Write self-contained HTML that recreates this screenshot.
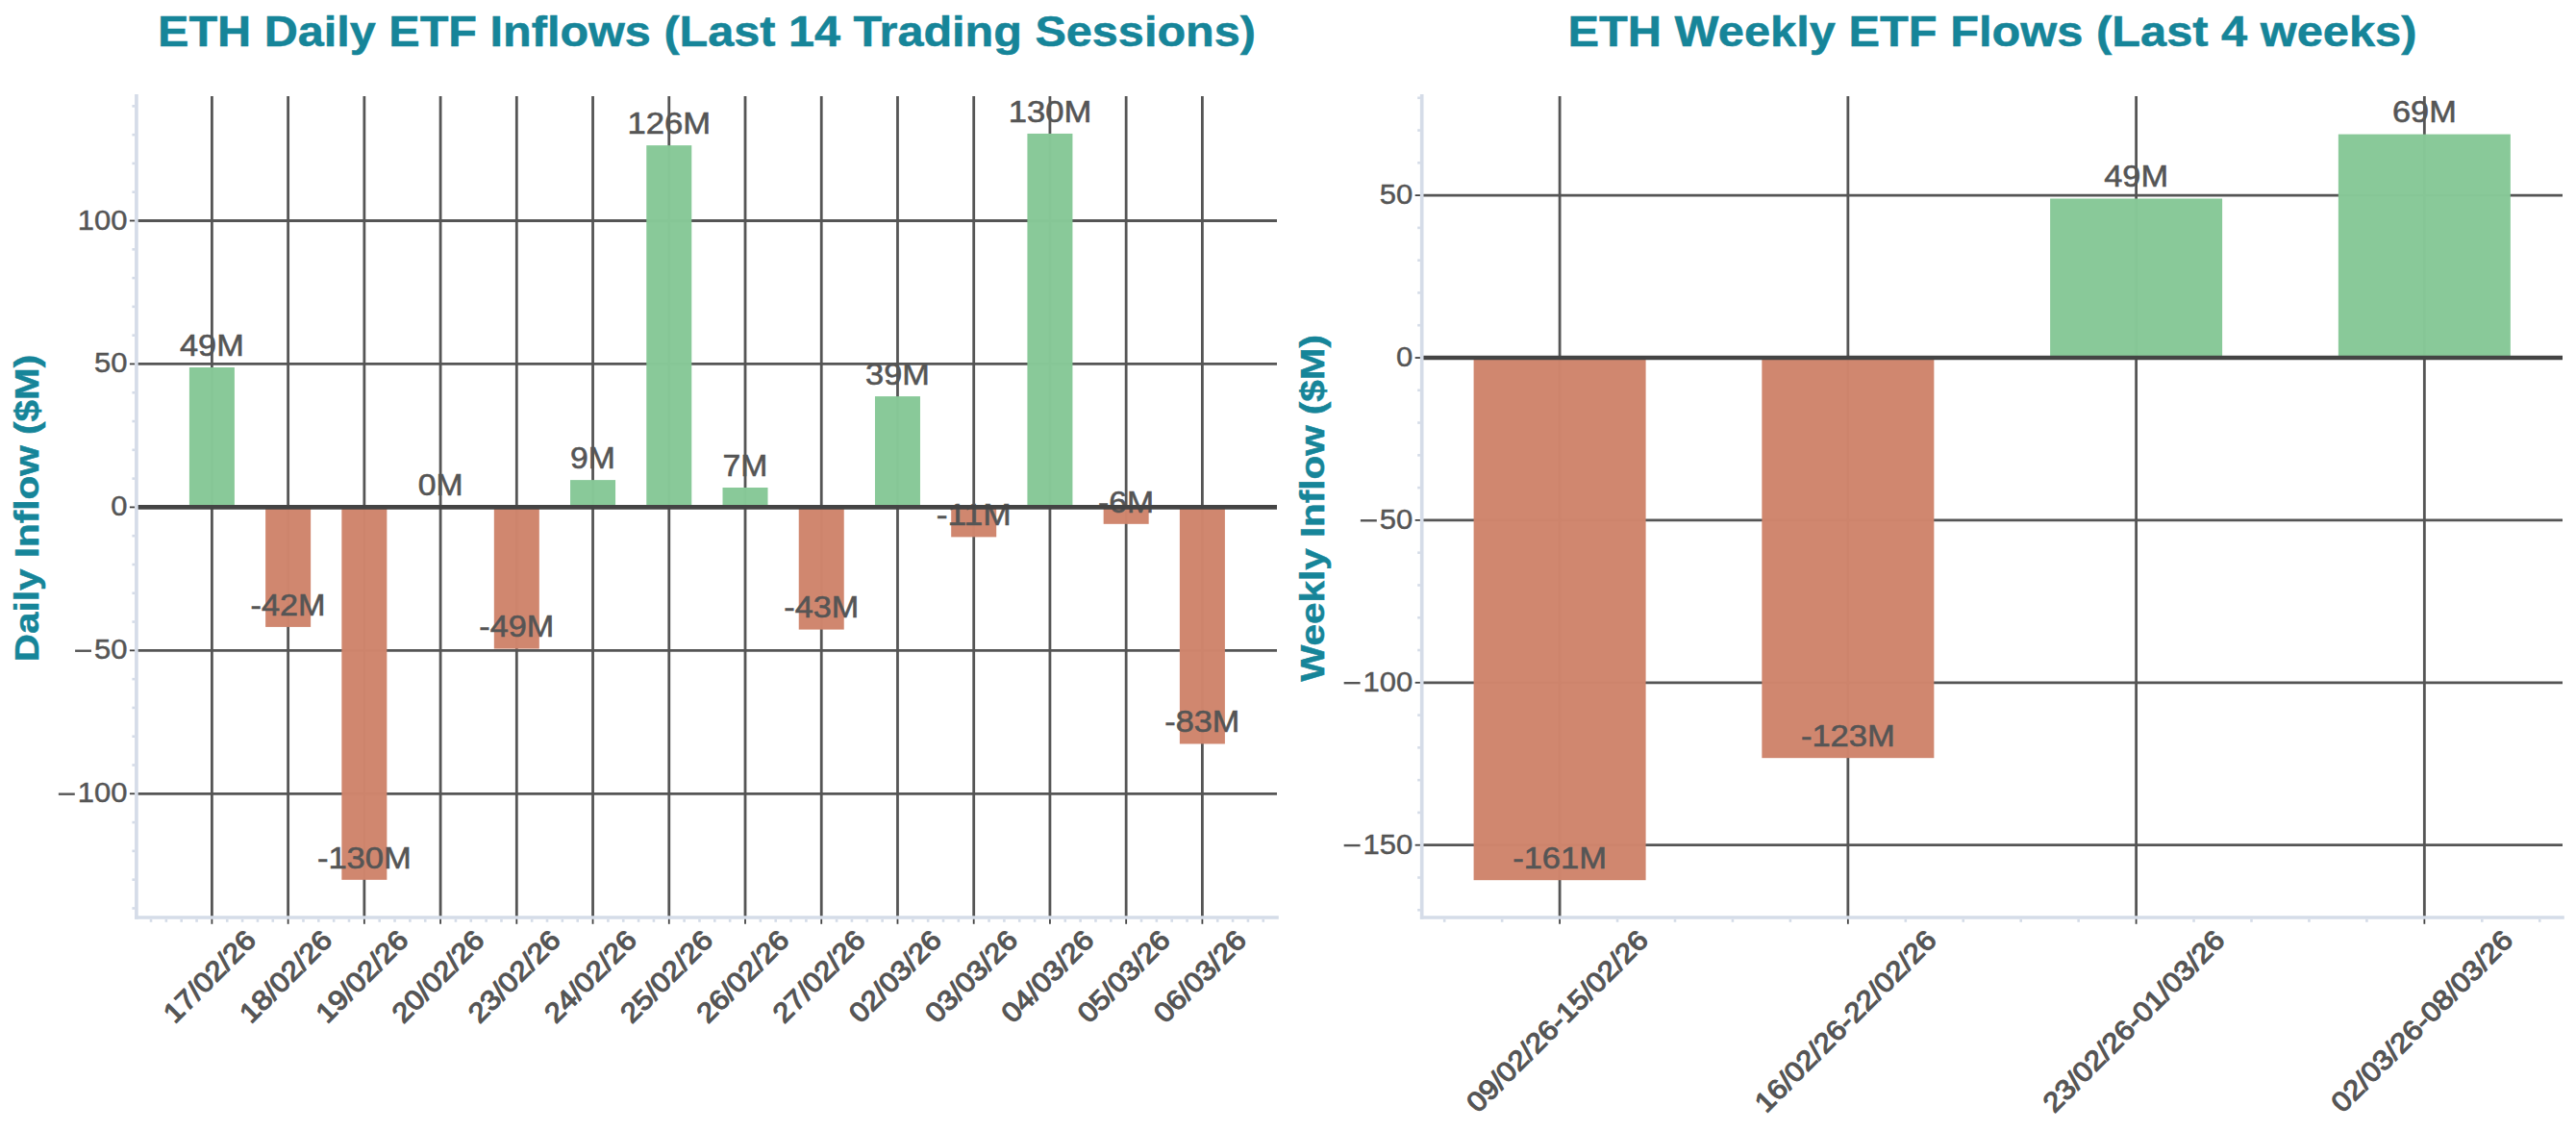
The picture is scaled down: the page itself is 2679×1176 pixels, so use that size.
<!DOCTYPE html>
<html><head><meta charset="utf-8"><style>
html,body{margin:0;padding:0;background:#fff;}
svg{display:block;}
text{font-family:"Liberation Sans",sans-serif;}
</style></head><body>
<svg width="2679" height="1176" viewBox="0 0 2679 1176">
<rect x="0" y="0" width="2679" height="1176" fill="#ffffff"/>
<line x1="220.40" y1="100.00" x2="220.40" y2="954.00" stroke="#555555" stroke-width="2.8" stroke-linecap="butt"/>
<line x1="299.63" y1="100.00" x2="299.63" y2="954.00" stroke="#555555" stroke-width="2.8" stroke-linecap="butt"/>
<line x1="378.86" y1="100.00" x2="378.86" y2="954.00" stroke="#555555" stroke-width="2.8" stroke-linecap="butt"/>
<line x1="458.09" y1="100.00" x2="458.09" y2="954.00" stroke="#555555" stroke-width="2.8" stroke-linecap="butt"/>
<line x1="537.32" y1="100.00" x2="537.32" y2="954.00" stroke="#555555" stroke-width="2.8" stroke-linecap="butt"/>
<line x1="616.55" y1="100.00" x2="616.55" y2="954.00" stroke="#555555" stroke-width="2.8" stroke-linecap="butt"/>
<line x1="695.78" y1="100.00" x2="695.78" y2="954.00" stroke="#555555" stroke-width="2.8" stroke-linecap="butt"/>
<line x1="775.01" y1="100.00" x2="775.01" y2="954.00" stroke="#555555" stroke-width="2.8" stroke-linecap="butt"/>
<line x1="854.24" y1="100.00" x2="854.24" y2="954.00" stroke="#555555" stroke-width="2.8" stroke-linecap="butt"/>
<line x1="933.47" y1="100.00" x2="933.47" y2="954.00" stroke="#555555" stroke-width="2.8" stroke-linecap="butt"/>
<line x1="1012.70" y1="100.00" x2="1012.70" y2="954.00" stroke="#555555" stroke-width="2.8" stroke-linecap="butt"/>
<line x1="1091.93" y1="100.00" x2="1091.93" y2="954.00" stroke="#555555" stroke-width="2.8" stroke-linecap="butt"/>
<line x1="1171.16" y1="100.00" x2="1171.16" y2="954.00" stroke="#555555" stroke-width="2.8" stroke-linecap="butt"/>
<line x1="1250.39" y1="100.00" x2="1250.39" y2="954.00" stroke="#555555" stroke-width="2.8" stroke-linecap="butt"/>
<line x1="141.90" y1="229.50" x2="1328.00" y2="229.50" stroke="#555555" stroke-width="2.8" stroke-linecap="butt"/>
<line x1="141.90" y1="378.45" x2="1328.00" y2="378.45" stroke="#555555" stroke-width="2.8" stroke-linecap="butt"/>
<line x1="141.90" y1="676.35" x2="1328.00" y2="676.35" stroke="#555555" stroke-width="2.8" stroke-linecap="butt"/>
<line x1="141.90" y1="825.30" x2="1328.00" y2="825.30" stroke="#555555" stroke-width="2.8" stroke-linecap="butt"/>
<rect x="196.90" y="382.02" width="47.00" height="145.38" fill="#87c897" opacity="0.985"/>
<rect x="276.13" y="527.40" width="47.00" height="124.52" fill="#cf856d" opacity="0.985"/>
<rect x="355.36" y="527.40" width="47.00" height="387.42" fill="#cf856d" opacity="0.985"/>
<rect x="434.59" y="527.40" width="47.00" height="0.00" fill="#87c897" opacity="0.985"/>
<rect x="513.82" y="527.40" width="47.00" height="147.16" fill="#cf856d" opacity="0.985"/>
<rect x="593.05" y="499.10" width="47.00" height="28.30" fill="#87c897" opacity="0.985"/>
<rect x="672.28" y="151.15" width="47.00" height="376.25" fill="#87c897" opacity="0.985"/>
<rect x="751.51" y="506.99" width="47.00" height="20.41" fill="#87c897" opacity="0.985"/>
<rect x="830.74" y="527.40" width="47.00" height="127.20" fill="#cf856d" opacity="0.985"/>
<rect x="909.97" y="412.11" width="47.00" height="115.29" fill="#87c897" opacity="0.985"/>
<rect x="989.20" y="527.40" width="47.00" height="30.98" fill="#cf856d" opacity="0.985"/>
<rect x="1068.43" y="138.94" width="47.00" height="388.46" fill="#87c897" opacity="0.985"/>
<rect x="1147.66" y="527.40" width="47.00" height="17.43" fill="#cf856d" opacity="0.985"/>
<rect x="1226.89" y="527.40" width="47.00" height="246.07" fill="#cf856d" opacity="0.985"/>
<text x="220.40" y="369.82" font-size="32.19" fill="#555555" text-anchor="middle" stroke="#555555" stroke-width="0.6" textLength="66.73" lengthAdjust="spacingAndGlyphs">49M</text>
<text x="299.63" y="639.72" font-size="32.19" fill="#555555" text-anchor="middle" stroke="#555555" stroke-width="0.6" textLength="78.00" lengthAdjust="spacingAndGlyphs">-42M</text>
<text x="378.86" y="902.62" font-size="32.19" fill="#555555" text-anchor="middle" stroke="#555555" stroke-width="0.6" textLength="97.89" lengthAdjust="spacingAndGlyphs">-130M</text>
<text x="458.09" y="515.20" font-size="32.19" fill="#555555" text-anchor="middle" stroke="#555555" stroke-width="0.6" textLength="46.84" lengthAdjust="spacingAndGlyphs">0M</text>
<text x="537.32" y="662.36" font-size="32.19" fill="#555555" text-anchor="middle" stroke="#555555" stroke-width="0.6" textLength="78.00" lengthAdjust="spacingAndGlyphs">-49M</text>
<text x="616.55" y="486.90" font-size="32.19" fill="#555555" text-anchor="middle" stroke="#555555" stroke-width="0.6" textLength="46.84" lengthAdjust="spacingAndGlyphs">9M</text>
<text x="695.78" y="138.95" font-size="32.19" fill="#555555" text-anchor="middle" stroke="#555555" stroke-width="0.6" textLength="86.61" lengthAdjust="spacingAndGlyphs">126M</text>
<text x="775.01" y="494.79" font-size="32.19" fill="#555555" text-anchor="middle" stroke="#555555" stroke-width="0.6" textLength="46.84" lengthAdjust="spacingAndGlyphs">7M</text>
<text x="854.24" y="642.40" font-size="32.19" fill="#555555" text-anchor="middle" stroke="#555555" stroke-width="0.6" textLength="78.00" lengthAdjust="spacingAndGlyphs">-43M</text>
<text x="933.47" y="399.91" font-size="32.19" fill="#555555" text-anchor="middle" stroke="#555555" stroke-width="0.6" textLength="66.73" lengthAdjust="spacingAndGlyphs">39M</text>
<text x="1012.70" y="546.18" font-size="32.19" fill="#555555" text-anchor="middle" stroke="#555555" stroke-width="0.6" textLength="78.00" lengthAdjust="spacingAndGlyphs">-11M</text>
<text x="1091.93" y="126.74" font-size="32.19" fill="#555555" text-anchor="middle" stroke="#555555" stroke-width="0.6" textLength="86.61" lengthAdjust="spacingAndGlyphs">130M</text>
<text x="1171.16" y="532.63" font-size="32.19" fill="#555555" text-anchor="middle" stroke="#555555" stroke-width="0.6" textLength="58.12" lengthAdjust="spacingAndGlyphs">-6M</text>
<text x="1250.39" y="761.27" font-size="32.19" fill="#555555" text-anchor="middle" stroke="#555555" stroke-width="0.6" textLength="78.00" lengthAdjust="spacingAndGlyphs">-83M</text>
<line x1="142.90" y1="527.40" x2="1328.00" y2="527.40" stroke="#444444" stroke-width="4.6" stroke-linecap="butt"/>
<line x1="137.40" y1="944.46" x2="140.10" y2="944.46" stroke="#d5dce8" stroke-width="2.6" stroke-linecap="butt"/>
<line x1="137.40" y1="914.67" x2="140.10" y2="914.67" stroke="#d5dce8" stroke-width="2.6" stroke-linecap="butt"/>
<line x1="137.40" y1="884.88" x2="140.10" y2="884.88" stroke="#d5dce8" stroke-width="2.6" stroke-linecap="butt"/>
<line x1="137.40" y1="855.09" x2="140.10" y2="855.09" stroke="#d5dce8" stroke-width="2.6" stroke-linecap="butt"/>
<line x1="137.40" y1="795.51" x2="140.10" y2="795.51" stroke="#d5dce8" stroke-width="2.6" stroke-linecap="butt"/>
<line x1="137.40" y1="765.72" x2="140.10" y2="765.72" stroke="#d5dce8" stroke-width="2.6" stroke-linecap="butt"/>
<line x1="137.40" y1="735.93" x2="140.10" y2="735.93" stroke="#d5dce8" stroke-width="2.6" stroke-linecap="butt"/>
<line x1="137.40" y1="706.14" x2="140.10" y2="706.14" stroke="#d5dce8" stroke-width="2.6" stroke-linecap="butt"/>
<line x1="137.40" y1="646.56" x2="140.10" y2="646.56" stroke="#d5dce8" stroke-width="2.6" stroke-linecap="butt"/>
<line x1="137.40" y1="616.77" x2="140.10" y2="616.77" stroke="#d5dce8" stroke-width="2.6" stroke-linecap="butt"/>
<line x1="137.40" y1="586.98" x2="140.10" y2="586.98" stroke="#d5dce8" stroke-width="2.6" stroke-linecap="butt"/>
<line x1="137.40" y1="557.19" x2="140.10" y2="557.19" stroke="#d5dce8" stroke-width="2.6" stroke-linecap="butt"/>
<line x1="137.40" y1="497.61" x2="140.10" y2="497.61" stroke="#d5dce8" stroke-width="2.6" stroke-linecap="butt"/>
<line x1="137.40" y1="467.82" x2="140.10" y2="467.82" stroke="#d5dce8" stroke-width="2.6" stroke-linecap="butt"/>
<line x1="137.40" y1="438.03" x2="140.10" y2="438.03" stroke="#d5dce8" stroke-width="2.6" stroke-linecap="butt"/>
<line x1="137.40" y1="408.24" x2="140.10" y2="408.24" stroke="#d5dce8" stroke-width="2.6" stroke-linecap="butt"/>
<line x1="137.40" y1="348.66" x2="140.10" y2="348.66" stroke="#d5dce8" stroke-width="2.6" stroke-linecap="butt"/>
<line x1="137.40" y1="318.87" x2="140.10" y2="318.87" stroke="#d5dce8" stroke-width="2.6" stroke-linecap="butt"/>
<line x1="137.40" y1="289.08" x2="140.10" y2="289.08" stroke="#d5dce8" stroke-width="2.6" stroke-linecap="butt"/>
<line x1="137.40" y1="259.29" x2="140.10" y2="259.29" stroke="#d5dce8" stroke-width="2.6" stroke-linecap="butt"/>
<line x1="137.40" y1="199.71" x2="140.10" y2="199.71" stroke="#d5dce8" stroke-width="2.6" stroke-linecap="butt"/>
<line x1="137.40" y1="169.92" x2="140.10" y2="169.92" stroke="#d5dce8" stroke-width="2.6" stroke-linecap="butt"/>
<line x1="137.40" y1="140.13" x2="140.10" y2="140.13" stroke="#d5dce8" stroke-width="2.6" stroke-linecap="butt"/>
<line x1="137.40" y1="110.34" x2="140.10" y2="110.34" stroke="#d5dce8" stroke-width="2.6" stroke-linecap="butt"/>
<line x1="157.02" y1="955.80" x2="157.02" y2="958.80" stroke="#d5dce8" stroke-width="2.6" stroke-linecap="butt"/>
<line x1="172.86" y1="955.80" x2="172.86" y2="958.80" stroke="#d5dce8" stroke-width="2.6" stroke-linecap="butt"/>
<line x1="188.71" y1="955.80" x2="188.71" y2="958.80" stroke="#d5dce8" stroke-width="2.6" stroke-linecap="butt"/>
<line x1="204.55" y1="955.80" x2="204.55" y2="958.80" stroke="#d5dce8" stroke-width="2.6" stroke-linecap="butt"/>
<line x1="236.25" y1="955.80" x2="236.25" y2="958.80" stroke="#d5dce8" stroke-width="2.6" stroke-linecap="butt"/>
<line x1="252.09" y1="955.80" x2="252.09" y2="958.80" stroke="#d5dce8" stroke-width="2.6" stroke-linecap="butt"/>
<line x1="267.94" y1="955.80" x2="267.94" y2="958.80" stroke="#d5dce8" stroke-width="2.6" stroke-linecap="butt"/>
<line x1="283.78" y1="955.80" x2="283.78" y2="958.80" stroke="#d5dce8" stroke-width="2.6" stroke-linecap="butt"/>
<line x1="315.48" y1="955.80" x2="315.48" y2="958.80" stroke="#d5dce8" stroke-width="2.6" stroke-linecap="butt"/>
<line x1="331.32" y1="955.80" x2="331.32" y2="958.80" stroke="#d5dce8" stroke-width="2.6" stroke-linecap="butt"/>
<line x1="347.17" y1="955.80" x2="347.17" y2="958.80" stroke="#d5dce8" stroke-width="2.6" stroke-linecap="butt"/>
<line x1="363.01" y1="955.80" x2="363.01" y2="958.80" stroke="#d5dce8" stroke-width="2.6" stroke-linecap="butt"/>
<line x1="394.71" y1="955.80" x2="394.71" y2="958.80" stroke="#d5dce8" stroke-width="2.6" stroke-linecap="butt"/>
<line x1="410.55" y1="955.80" x2="410.55" y2="958.80" stroke="#d5dce8" stroke-width="2.6" stroke-linecap="butt"/>
<line x1="426.40" y1="955.80" x2="426.40" y2="958.80" stroke="#d5dce8" stroke-width="2.6" stroke-linecap="butt"/>
<line x1="442.24" y1="955.80" x2="442.24" y2="958.80" stroke="#d5dce8" stroke-width="2.6" stroke-linecap="butt"/>
<line x1="473.94" y1="955.80" x2="473.94" y2="958.80" stroke="#d5dce8" stroke-width="2.6" stroke-linecap="butt"/>
<line x1="489.78" y1="955.80" x2="489.78" y2="958.80" stroke="#d5dce8" stroke-width="2.6" stroke-linecap="butt"/>
<line x1="505.63" y1="955.80" x2="505.63" y2="958.80" stroke="#d5dce8" stroke-width="2.6" stroke-linecap="butt"/>
<line x1="521.47" y1="955.80" x2="521.47" y2="958.80" stroke="#d5dce8" stroke-width="2.6" stroke-linecap="butt"/>
<line x1="553.17" y1="955.80" x2="553.17" y2="958.80" stroke="#d5dce8" stroke-width="2.6" stroke-linecap="butt"/>
<line x1="569.01" y1="955.80" x2="569.01" y2="958.80" stroke="#d5dce8" stroke-width="2.6" stroke-linecap="butt"/>
<line x1="584.86" y1="955.80" x2="584.86" y2="958.80" stroke="#d5dce8" stroke-width="2.6" stroke-linecap="butt"/>
<line x1="600.70" y1="955.80" x2="600.70" y2="958.80" stroke="#d5dce8" stroke-width="2.6" stroke-linecap="butt"/>
<line x1="632.40" y1="955.80" x2="632.40" y2="958.80" stroke="#d5dce8" stroke-width="2.6" stroke-linecap="butt"/>
<line x1="648.24" y1="955.80" x2="648.24" y2="958.80" stroke="#d5dce8" stroke-width="2.6" stroke-linecap="butt"/>
<line x1="664.09" y1="955.80" x2="664.09" y2="958.80" stroke="#d5dce8" stroke-width="2.6" stroke-linecap="butt"/>
<line x1="679.93" y1="955.80" x2="679.93" y2="958.80" stroke="#d5dce8" stroke-width="2.6" stroke-linecap="butt"/>
<line x1="711.63" y1="955.80" x2="711.63" y2="958.80" stroke="#d5dce8" stroke-width="2.6" stroke-linecap="butt"/>
<line x1="727.47" y1="955.80" x2="727.47" y2="958.80" stroke="#d5dce8" stroke-width="2.6" stroke-linecap="butt"/>
<line x1="743.32" y1="955.80" x2="743.32" y2="958.80" stroke="#d5dce8" stroke-width="2.6" stroke-linecap="butt"/>
<line x1="759.16" y1="955.80" x2="759.16" y2="958.80" stroke="#d5dce8" stroke-width="2.6" stroke-linecap="butt"/>
<line x1="790.86" y1="955.80" x2="790.86" y2="958.80" stroke="#d5dce8" stroke-width="2.6" stroke-linecap="butt"/>
<line x1="806.70" y1="955.80" x2="806.70" y2="958.80" stroke="#d5dce8" stroke-width="2.6" stroke-linecap="butt"/>
<line x1="822.55" y1="955.80" x2="822.55" y2="958.80" stroke="#d5dce8" stroke-width="2.6" stroke-linecap="butt"/>
<line x1="838.39" y1="955.80" x2="838.39" y2="958.80" stroke="#d5dce8" stroke-width="2.6" stroke-linecap="butt"/>
<line x1="870.09" y1="955.80" x2="870.09" y2="958.80" stroke="#d5dce8" stroke-width="2.6" stroke-linecap="butt"/>
<line x1="885.93" y1="955.80" x2="885.93" y2="958.80" stroke="#d5dce8" stroke-width="2.6" stroke-linecap="butt"/>
<line x1="901.78" y1="955.80" x2="901.78" y2="958.80" stroke="#d5dce8" stroke-width="2.6" stroke-linecap="butt"/>
<line x1="917.62" y1="955.80" x2="917.62" y2="958.80" stroke="#d5dce8" stroke-width="2.6" stroke-linecap="butt"/>
<line x1="949.32" y1="955.80" x2="949.32" y2="958.80" stroke="#d5dce8" stroke-width="2.6" stroke-linecap="butt"/>
<line x1="965.16" y1="955.80" x2="965.16" y2="958.80" stroke="#d5dce8" stroke-width="2.6" stroke-linecap="butt"/>
<line x1="981.01" y1="955.80" x2="981.01" y2="958.80" stroke="#d5dce8" stroke-width="2.6" stroke-linecap="butt"/>
<line x1="996.85" y1="955.80" x2="996.85" y2="958.80" stroke="#d5dce8" stroke-width="2.6" stroke-linecap="butt"/>
<line x1="1028.55" y1="955.80" x2="1028.55" y2="958.80" stroke="#d5dce8" stroke-width="2.6" stroke-linecap="butt"/>
<line x1="1044.39" y1="955.80" x2="1044.39" y2="958.80" stroke="#d5dce8" stroke-width="2.6" stroke-linecap="butt"/>
<line x1="1060.24" y1="955.80" x2="1060.24" y2="958.80" stroke="#d5dce8" stroke-width="2.6" stroke-linecap="butt"/>
<line x1="1076.08" y1="955.80" x2="1076.08" y2="958.80" stroke="#d5dce8" stroke-width="2.6" stroke-linecap="butt"/>
<line x1="1107.78" y1="955.80" x2="1107.78" y2="958.80" stroke="#d5dce8" stroke-width="2.6" stroke-linecap="butt"/>
<line x1="1123.62" y1="955.80" x2="1123.62" y2="958.80" stroke="#d5dce8" stroke-width="2.6" stroke-linecap="butt"/>
<line x1="1139.47" y1="955.80" x2="1139.47" y2="958.80" stroke="#d5dce8" stroke-width="2.6" stroke-linecap="butt"/>
<line x1="1155.31" y1="955.80" x2="1155.31" y2="958.80" stroke="#d5dce8" stroke-width="2.6" stroke-linecap="butt"/>
<line x1="1187.01" y1="955.80" x2="1187.01" y2="958.80" stroke="#d5dce8" stroke-width="2.6" stroke-linecap="butt"/>
<line x1="1202.85" y1="955.80" x2="1202.85" y2="958.80" stroke="#d5dce8" stroke-width="2.6" stroke-linecap="butt"/>
<line x1="1218.70" y1="955.80" x2="1218.70" y2="958.80" stroke="#d5dce8" stroke-width="2.6" stroke-linecap="butt"/>
<line x1="1234.54" y1="955.80" x2="1234.54" y2="958.80" stroke="#d5dce8" stroke-width="2.6" stroke-linecap="butt"/>
<line x1="1266.24" y1="955.80" x2="1266.24" y2="958.80" stroke="#d5dce8" stroke-width="2.6" stroke-linecap="butt"/>
<line x1="1282.08" y1="955.80" x2="1282.08" y2="958.80" stroke="#d5dce8" stroke-width="2.6" stroke-linecap="butt"/>
<line x1="1297.93" y1="955.80" x2="1297.93" y2="958.80" stroke="#d5dce8" stroke-width="2.6" stroke-linecap="butt"/>
<line x1="1313.77" y1="955.80" x2="1313.77" y2="958.80" stroke="#d5dce8" stroke-width="2.6" stroke-linecap="butt"/>
<line x1="134.90" y1="229.50" x2="140.40" y2="229.50" stroke="#444444" stroke-width="1.8" stroke-linecap="butt"/>
<line x1="134.90" y1="378.45" x2="140.40" y2="378.45" stroke="#444444" stroke-width="1.8" stroke-linecap="butt"/>
<line x1="134.90" y1="527.40" x2="140.40" y2="527.40" stroke="#444444" stroke-width="1.8" stroke-linecap="butt"/>
<line x1="134.90" y1="676.35" x2="140.40" y2="676.35" stroke="#444444" stroke-width="1.8" stroke-linecap="butt"/>
<line x1="134.90" y1="825.30" x2="140.40" y2="825.30" stroke="#444444" stroke-width="1.8" stroke-linecap="butt"/>
<line x1="220.40" y1="955.00" x2="220.40" y2="960.80" stroke="#444444" stroke-width="1.8" stroke-linecap="butt"/>
<line x1="299.63" y1="955.00" x2="299.63" y2="960.80" stroke="#444444" stroke-width="1.8" stroke-linecap="butt"/>
<line x1="378.86" y1="955.00" x2="378.86" y2="960.80" stroke="#444444" stroke-width="1.8" stroke-linecap="butt"/>
<line x1="458.09" y1="955.00" x2="458.09" y2="960.80" stroke="#444444" stroke-width="1.8" stroke-linecap="butt"/>
<line x1="537.32" y1="955.00" x2="537.32" y2="960.80" stroke="#444444" stroke-width="1.8" stroke-linecap="butt"/>
<line x1="616.55" y1="955.00" x2="616.55" y2="960.80" stroke="#444444" stroke-width="1.8" stroke-linecap="butt"/>
<line x1="695.78" y1="955.00" x2="695.78" y2="960.80" stroke="#444444" stroke-width="1.8" stroke-linecap="butt"/>
<line x1="775.01" y1="955.00" x2="775.01" y2="960.80" stroke="#444444" stroke-width="1.8" stroke-linecap="butt"/>
<line x1="854.24" y1="955.00" x2="854.24" y2="960.80" stroke="#444444" stroke-width="1.8" stroke-linecap="butt"/>
<line x1="933.47" y1="955.00" x2="933.47" y2="960.80" stroke="#444444" stroke-width="1.8" stroke-linecap="butt"/>
<line x1="1012.70" y1="955.00" x2="1012.70" y2="960.80" stroke="#444444" stroke-width="1.8" stroke-linecap="butt"/>
<line x1="1091.93" y1="955.00" x2="1091.93" y2="960.80" stroke="#444444" stroke-width="1.8" stroke-linecap="butt"/>
<line x1="1171.16" y1="955.00" x2="1171.16" y2="960.80" stroke="#444444" stroke-width="1.8" stroke-linecap="butt"/>
<line x1="1250.39" y1="955.00" x2="1250.39" y2="960.80" stroke="#444444" stroke-width="1.8" stroke-linecap="butt"/>
<line x1="141.90" y1="98.00" x2="141.90" y2="955.80" stroke="#d5dce8" stroke-width="3.65" stroke-linecap="butt"/>
<line x1="140.10" y1="954.00" x2="1329.80" y2="954.00" stroke="#d5dce8" stroke-width="3.65" stroke-linecap="butt"/>
<text x="132.40" y="238.50" font-size="28.65" fill="#555555" text-anchor="end" stroke="#555555" stroke-width="0.45" textLength="51.69" lengthAdjust="spacingAndGlyphs">100</text>
<text x="132.40" y="387.45" font-size="28.65" fill="#555555" text-anchor="end" stroke="#555555" stroke-width="0.45" textLength="34.46" lengthAdjust="spacingAndGlyphs">50</text>
<text x="132.40" y="536.40" font-size="28.65" fill="#555555" text-anchor="end" stroke="#555555" stroke-width="0.45" textLength="17.23" lengthAdjust="spacingAndGlyphs">0</text>
<line x1="78.09" y1="676.73" x2="95.02" y2="676.73" stroke="#555555" stroke-width="2.4" stroke-linecap="butt"/>
<text x="132.40" y="685.35" font-size="28.65" fill="#555555" text-anchor="end" stroke="#555555" stroke-width="0.45" textLength="34.46" lengthAdjust="spacingAndGlyphs">50</text>
<line x1="60.87" y1="825.68" x2="77.79" y2="825.68" stroke="#555555" stroke-width="2.4" stroke-linecap="butt"/>
<text x="132.40" y="834.30" font-size="28.65" fill="#555555" text-anchor="end" stroke="#555555" stroke-width="0.45" textLength="51.69" lengthAdjust="spacingAndGlyphs">100</text>
<text x="0.00" y="0.00" font-size="28.65" fill="#555555" text-anchor="middle" stroke="#555555" stroke-width="1.2" textLength="121.62" lengthAdjust="spacingAndGlyphs" transform="translate(218.40,1015.95) rotate(-45) translate(0,8.94)">17/02/26</text>
<text x="0.00" y="0.00" font-size="28.65" fill="#555555" text-anchor="middle" stroke="#555555" stroke-width="1.2" textLength="121.62" lengthAdjust="spacingAndGlyphs" transform="translate(297.63,1015.95) rotate(-45) translate(0,8.94)">18/02/26</text>
<text x="0.00" y="0.00" font-size="28.65" fill="#555555" text-anchor="middle" stroke="#555555" stroke-width="1.2" textLength="121.62" lengthAdjust="spacingAndGlyphs" transform="translate(376.86,1015.95) rotate(-45) translate(0,8.94)">19/02/26</text>
<text x="0.00" y="0.00" font-size="28.65" fill="#555555" text-anchor="middle" stroke="#555555" stroke-width="1.2" textLength="121.62" lengthAdjust="spacingAndGlyphs" transform="translate(456.09,1015.95) rotate(-45) translate(0,8.94)">20/02/26</text>
<text x="0.00" y="0.00" font-size="28.65" fill="#555555" text-anchor="middle" stroke="#555555" stroke-width="1.2" textLength="121.62" lengthAdjust="spacingAndGlyphs" transform="translate(535.32,1015.95) rotate(-45) translate(0,8.94)">23/02/26</text>
<text x="0.00" y="0.00" font-size="28.65" fill="#555555" text-anchor="middle" stroke="#555555" stroke-width="1.2" textLength="121.62" lengthAdjust="spacingAndGlyphs" transform="translate(614.55,1015.95) rotate(-45) translate(0,8.94)">24/02/26</text>
<text x="0.00" y="0.00" font-size="28.65" fill="#555555" text-anchor="middle" stroke="#555555" stroke-width="1.2" textLength="121.62" lengthAdjust="spacingAndGlyphs" transform="translate(693.78,1015.95) rotate(-45) translate(0,8.94)">25/02/26</text>
<text x="0.00" y="0.00" font-size="28.65" fill="#555555" text-anchor="middle" stroke="#555555" stroke-width="1.2" textLength="121.62" lengthAdjust="spacingAndGlyphs" transform="translate(773.01,1015.95) rotate(-45) translate(0,8.94)">26/02/26</text>
<text x="0.00" y="0.00" font-size="28.65" fill="#555555" text-anchor="middle" stroke="#555555" stroke-width="1.2" textLength="121.62" lengthAdjust="spacingAndGlyphs" transform="translate(852.24,1015.95) rotate(-45) translate(0,8.94)">27/02/26</text>
<text x="0.00" y="0.00" font-size="28.65" fill="#555555" text-anchor="middle" stroke="#555555" stroke-width="1.2" textLength="121.62" lengthAdjust="spacingAndGlyphs" transform="translate(931.47,1015.95) rotate(-45) translate(0,8.94)">02/03/26</text>
<text x="0.00" y="0.00" font-size="28.65" fill="#555555" text-anchor="middle" stroke="#555555" stroke-width="1.2" textLength="121.62" lengthAdjust="spacingAndGlyphs" transform="translate(1010.70,1015.95) rotate(-45) translate(0,8.94)">03/03/26</text>
<text x="0.00" y="0.00" font-size="28.65" fill="#555555" text-anchor="middle" stroke="#555555" stroke-width="1.2" textLength="121.62" lengthAdjust="spacingAndGlyphs" transform="translate(1089.93,1015.95) rotate(-45) translate(0,8.94)">04/03/26</text>
<text x="0.00" y="0.00" font-size="28.65" fill="#555555" text-anchor="middle" stroke="#555555" stroke-width="1.2" textLength="121.62" lengthAdjust="spacingAndGlyphs" transform="translate(1169.16,1015.95) rotate(-45) translate(0,8.94)">05/03/26</text>
<text x="0.00" y="0.00" font-size="28.65" fill="#555555" text-anchor="middle" stroke="#555555" stroke-width="1.2" textLength="121.62" lengthAdjust="spacingAndGlyphs" transform="translate(1248.39,1015.95) rotate(-45) translate(0,8.94)">06/03/26</text>
<text x="735.00" y="47.80" font-size="44.09" fill="#168599" text-anchor="middle" font-weight="bold" stroke="#168599" stroke-width="0.5" textLength="1141.94" lengthAdjust="spacingAndGlyphs">ETH Daily ETF Inflows (Last 14 Trading Sessions)</text>
<text x="0.00" y="0.00" font-size="35.26" fill="#168599" text-anchor="middle" font-weight="bold" stroke="#168599" stroke-width="0.5" textLength="319.29" lengthAdjust="spacingAndGlyphs" transform="translate(40.00,528.50) rotate(-90)">Daily Inflow ($M)</text>
<line x1="1622.10" y1="100.00" x2="1622.10" y2="954.00" stroke="#555555" stroke-width="2.8" stroke-linecap="butt"/>
<line x1="1921.85" y1="100.00" x2="1921.85" y2="954.00" stroke="#555555" stroke-width="2.8" stroke-linecap="butt"/>
<line x1="2221.60" y1="100.00" x2="2221.60" y2="954.00" stroke="#555555" stroke-width="2.8" stroke-linecap="butt"/>
<line x1="2521.35" y1="100.00" x2="2521.35" y2="954.00" stroke="#555555" stroke-width="2.8" stroke-linecap="butt"/>
<line x1="1478.70" y1="203.10" x2="2665.00" y2="203.10" stroke="#555555" stroke-width="2.8" stroke-linecap="butt"/>
<line x1="1478.70" y1="540.90" x2="2665.00" y2="540.90" stroke="#555555" stroke-width="2.8" stroke-linecap="butt"/>
<line x1="1478.70" y1="709.80" x2="2665.00" y2="709.80" stroke="#555555" stroke-width="2.8" stroke-linecap="butt"/>
<line x1="1478.70" y1="878.70" x2="2665.00" y2="878.70" stroke="#555555" stroke-width="2.8" stroke-linecap="butt"/>
<rect x="1532.60" y="372.00" width="179.00" height="543.18" fill="#cf856d" opacity="0.985"/>
<rect x="1832.35" y="372.00" width="179.00" height="416.17" fill="#cf856d" opacity="0.985"/>
<rect x="2132.10" y="206.48" width="179.00" height="165.52" fill="#87c897" opacity="0.985"/>
<rect x="2431.85" y="139.59" width="179.00" height="232.41" fill="#87c897" opacity="0.985"/>
<text x="1622.10" y="902.98" font-size="32.19" fill="#555555" text-anchor="middle" stroke="#555555" stroke-width="0.6" textLength="97.89" lengthAdjust="spacingAndGlyphs">-161M</text>
<text x="1921.85" y="775.97" font-size="32.19" fill="#555555" text-anchor="middle" stroke="#555555" stroke-width="0.6" textLength="97.89" lengthAdjust="spacingAndGlyphs">-123M</text>
<text x="2221.60" y="194.28" font-size="32.19" fill="#555555" text-anchor="middle" stroke="#555555" stroke-width="0.6" textLength="66.73" lengthAdjust="spacingAndGlyphs">49M</text>
<text x="2521.35" y="127.39" font-size="32.19" fill="#555555" text-anchor="middle" stroke="#555555" stroke-width="0.6" textLength="66.73" lengthAdjust="spacingAndGlyphs">69M</text>
<line x1="1479.70" y1="372.00" x2="2665.00" y2="372.00" stroke="#444444" stroke-width="4.6" stroke-linecap="butt"/>
<line x1="1474.20" y1="946.26" x2="1476.90" y2="946.26" stroke="#d5dce8" stroke-width="2.6" stroke-linecap="butt"/>
<line x1="1474.20" y1="912.48" x2="1476.90" y2="912.48" stroke="#d5dce8" stroke-width="2.6" stroke-linecap="butt"/>
<line x1="1474.20" y1="844.92" x2="1476.90" y2="844.92" stroke="#d5dce8" stroke-width="2.6" stroke-linecap="butt"/>
<line x1="1474.20" y1="811.14" x2="1476.90" y2="811.14" stroke="#d5dce8" stroke-width="2.6" stroke-linecap="butt"/>
<line x1="1474.20" y1="777.36" x2="1476.90" y2="777.36" stroke="#d5dce8" stroke-width="2.6" stroke-linecap="butt"/>
<line x1="1474.20" y1="743.58" x2="1476.90" y2="743.58" stroke="#d5dce8" stroke-width="2.6" stroke-linecap="butt"/>
<line x1="1474.20" y1="676.02" x2="1476.90" y2="676.02" stroke="#d5dce8" stroke-width="2.6" stroke-linecap="butt"/>
<line x1="1474.20" y1="642.24" x2="1476.90" y2="642.24" stroke="#d5dce8" stroke-width="2.6" stroke-linecap="butt"/>
<line x1="1474.20" y1="608.46" x2="1476.90" y2="608.46" stroke="#d5dce8" stroke-width="2.6" stroke-linecap="butt"/>
<line x1="1474.20" y1="574.68" x2="1476.90" y2="574.68" stroke="#d5dce8" stroke-width="2.6" stroke-linecap="butt"/>
<line x1="1474.20" y1="507.12" x2="1476.90" y2="507.12" stroke="#d5dce8" stroke-width="2.6" stroke-linecap="butt"/>
<line x1="1474.20" y1="473.34" x2="1476.90" y2="473.34" stroke="#d5dce8" stroke-width="2.6" stroke-linecap="butt"/>
<line x1="1474.20" y1="439.56" x2="1476.90" y2="439.56" stroke="#d5dce8" stroke-width="2.6" stroke-linecap="butt"/>
<line x1="1474.20" y1="405.78" x2="1476.90" y2="405.78" stroke="#d5dce8" stroke-width="2.6" stroke-linecap="butt"/>
<line x1="1474.20" y1="338.22" x2="1476.90" y2="338.22" stroke="#d5dce8" stroke-width="2.6" stroke-linecap="butt"/>
<line x1="1474.20" y1="304.44" x2="1476.90" y2="304.44" stroke="#d5dce8" stroke-width="2.6" stroke-linecap="butt"/>
<line x1="1474.20" y1="270.66" x2="1476.90" y2="270.66" stroke="#d5dce8" stroke-width="2.6" stroke-linecap="butt"/>
<line x1="1474.20" y1="236.88" x2="1476.90" y2="236.88" stroke="#d5dce8" stroke-width="2.6" stroke-linecap="butt"/>
<line x1="1474.20" y1="169.32" x2="1476.90" y2="169.32" stroke="#d5dce8" stroke-width="2.6" stroke-linecap="butt"/>
<line x1="1474.20" y1="135.54" x2="1476.90" y2="135.54" stroke="#d5dce8" stroke-width="2.6" stroke-linecap="butt"/>
<line x1="1474.20" y1="101.76" x2="1476.90" y2="101.76" stroke="#d5dce8" stroke-width="2.6" stroke-linecap="butt"/>
<line x1="1502.20" y1="955.80" x2="1502.20" y2="958.80" stroke="#d5dce8" stroke-width="2.6" stroke-linecap="butt"/>
<line x1="1562.15" y1="955.80" x2="1562.15" y2="958.80" stroke="#d5dce8" stroke-width="2.6" stroke-linecap="butt"/>
<line x1="1682.05" y1="955.80" x2="1682.05" y2="958.80" stroke="#d5dce8" stroke-width="2.6" stroke-linecap="butt"/>
<line x1="1742.00" y1="955.80" x2="1742.00" y2="958.80" stroke="#d5dce8" stroke-width="2.6" stroke-linecap="butt"/>
<line x1="1801.95" y1="955.80" x2="1801.95" y2="958.80" stroke="#d5dce8" stroke-width="2.6" stroke-linecap="butt"/>
<line x1="1861.90" y1="955.80" x2="1861.90" y2="958.80" stroke="#d5dce8" stroke-width="2.6" stroke-linecap="butt"/>
<line x1="1981.80" y1="955.80" x2="1981.80" y2="958.80" stroke="#d5dce8" stroke-width="2.6" stroke-linecap="butt"/>
<line x1="2041.75" y1="955.80" x2="2041.75" y2="958.80" stroke="#d5dce8" stroke-width="2.6" stroke-linecap="butt"/>
<line x1="2101.70" y1="955.80" x2="2101.70" y2="958.80" stroke="#d5dce8" stroke-width="2.6" stroke-linecap="butt"/>
<line x1="2161.65" y1="955.80" x2="2161.65" y2="958.80" stroke="#d5dce8" stroke-width="2.6" stroke-linecap="butt"/>
<line x1="2281.55" y1="955.80" x2="2281.55" y2="958.80" stroke="#d5dce8" stroke-width="2.6" stroke-linecap="butt"/>
<line x1="2341.50" y1="955.80" x2="2341.50" y2="958.80" stroke="#d5dce8" stroke-width="2.6" stroke-linecap="butt"/>
<line x1="2401.45" y1="955.80" x2="2401.45" y2="958.80" stroke="#d5dce8" stroke-width="2.6" stroke-linecap="butt"/>
<line x1="2461.40" y1="955.80" x2="2461.40" y2="958.80" stroke="#d5dce8" stroke-width="2.6" stroke-linecap="butt"/>
<line x1="2581.30" y1="955.80" x2="2581.30" y2="958.80" stroke="#d5dce8" stroke-width="2.6" stroke-linecap="butt"/>
<line x1="2641.25" y1="955.80" x2="2641.25" y2="958.80" stroke="#d5dce8" stroke-width="2.6" stroke-linecap="butt"/>
<line x1="1471.70" y1="203.10" x2="1477.20" y2="203.10" stroke="#444444" stroke-width="1.8" stroke-linecap="butt"/>
<line x1="1471.70" y1="372.00" x2="1477.20" y2="372.00" stroke="#444444" stroke-width="1.8" stroke-linecap="butt"/>
<line x1="1471.70" y1="540.90" x2="1477.20" y2="540.90" stroke="#444444" stroke-width="1.8" stroke-linecap="butt"/>
<line x1="1471.70" y1="709.80" x2="1477.20" y2="709.80" stroke="#444444" stroke-width="1.8" stroke-linecap="butt"/>
<line x1="1471.70" y1="878.70" x2="1477.20" y2="878.70" stroke="#444444" stroke-width="1.8" stroke-linecap="butt"/>
<line x1="1622.10" y1="955.00" x2="1622.10" y2="960.80" stroke="#444444" stroke-width="1.8" stroke-linecap="butt"/>
<line x1="1921.85" y1="955.00" x2="1921.85" y2="960.80" stroke="#444444" stroke-width="1.8" stroke-linecap="butt"/>
<line x1="2221.60" y1="955.00" x2="2221.60" y2="960.80" stroke="#444444" stroke-width="1.8" stroke-linecap="butt"/>
<line x1="2521.35" y1="955.00" x2="2521.35" y2="960.80" stroke="#444444" stroke-width="1.8" stroke-linecap="butt"/>
<line x1="1478.70" y1="98.00" x2="1478.70" y2="955.80" stroke="#d5dce8" stroke-width="3.65" stroke-linecap="butt"/>
<line x1="1476.90" y1="954.00" x2="2666.80" y2="954.00" stroke="#d5dce8" stroke-width="3.65" stroke-linecap="butt"/>
<text x="1469.20" y="212.10" font-size="28.65" fill="#555555" text-anchor="end" stroke="#555555" stroke-width="0.45" textLength="34.46" lengthAdjust="spacingAndGlyphs">50</text>
<text x="1469.20" y="381.00" font-size="28.65" fill="#555555" text-anchor="end" stroke="#555555" stroke-width="0.45" textLength="17.23" lengthAdjust="spacingAndGlyphs">0</text>
<line x1="1414.89" y1="541.28" x2="1431.82" y2="541.28" stroke="#555555" stroke-width="2.4" stroke-linecap="butt"/>
<text x="1469.20" y="549.90" font-size="28.65" fill="#555555" text-anchor="end" stroke="#555555" stroke-width="0.45" textLength="34.46" lengthAdjust="spacingAndGlyphs">50</text>
<line x1="1397.67" y1="710.18" x2="1414.59" y2="710.18" stroke="#555555" stroke-width="2.4" stroke-linecap="butt"/>
<text x="1469.20" y="718.80" font-size="28.65" fill="#555555" text-anchor="end" stroke="#555555" stroke-width="0.45" textLength="51.69" lengthAdjust="spacingAndGlyphs">100</text>
<line x1="1397.67" y1="879.08" x2="1414.59" y2="879.08" stroke="#555555" stroke-width="2.4" stroke-linecap="butt"/>
<text x="1469.20" y="887.70" font-size="28.65" fill="#555555" text-anchor="end" stroke="#555555" stroke-width="0.45" textLength="51.69" lengthAdjust="spacingAndGlyphs">150</text>
<text x="0.00" y="0.00" font-size="28.65" fill="#555555" text-anchor="middle" stroke="#555555" stroke-width="1.2" textLength="253.02" lengthAdjust="spacingAndGlyphs" transform="translate(1620.10,1062.40) rotate(-45) translate(0,8.94)">09/02/26-15/02/26</text>
<text x="0.00" y="0.00" font-size="28.65" fill="#555555" text-anchor="middle" stroke="#555555" stroke-width="1.2" textLength="253.02" lengthAdjust="spacingAndGlyphs" transform="translate(1919.85,1062.40) rotate(-45) translate(0,8.94)">16/02/26-22/02/26</text>
<text x="0.00" y="0.00" font-size="28.65" fill="#555555" text-anchor="middle" stroke="#555555" stroke-width="1.2" textLength="253.02" lengthAdjust="spacingAndGlyphs" transform="translate(2219.60,1062.40) rotate(-45) translate(0,8.94)">23/02/26-01/03/26</text>
<text x="0.00" y="0.00" font-size="28.65" fill="#555555" text-anchor="middle" stroke="#555555" stroke-width="1.2" textLength="253.02" lengthAdjust="spacingAndGlyphs" transform="translate(2519.35,1062.40) rotate(-45) translate(0,8.94)">02/03/26-08/03/26</text>
<text x="2072.00" y="47.80" font-size="44.09" fill="#168599" text-anchor="middle" font-weight="bold" stroke="#168599" stroke-width="0.5" textLength="883.01" lengthAdjust="spacingAndGlyphs">ETH Weekly ETF Flows (Last 4 weeks)</text>
<text x="0.00" y="0.00" font-size="35.26" fill="#168599" text-anchor="middle" font-weight="bold" stroke="#168599" stroke-width="0.5" textLength="360.66" lengthAdjust="spacingAndGlyphs" transform="translate(1377.00,528.50) rotate(-90)">Weekly Inflow ($M)</text>
</svg></body></html>
